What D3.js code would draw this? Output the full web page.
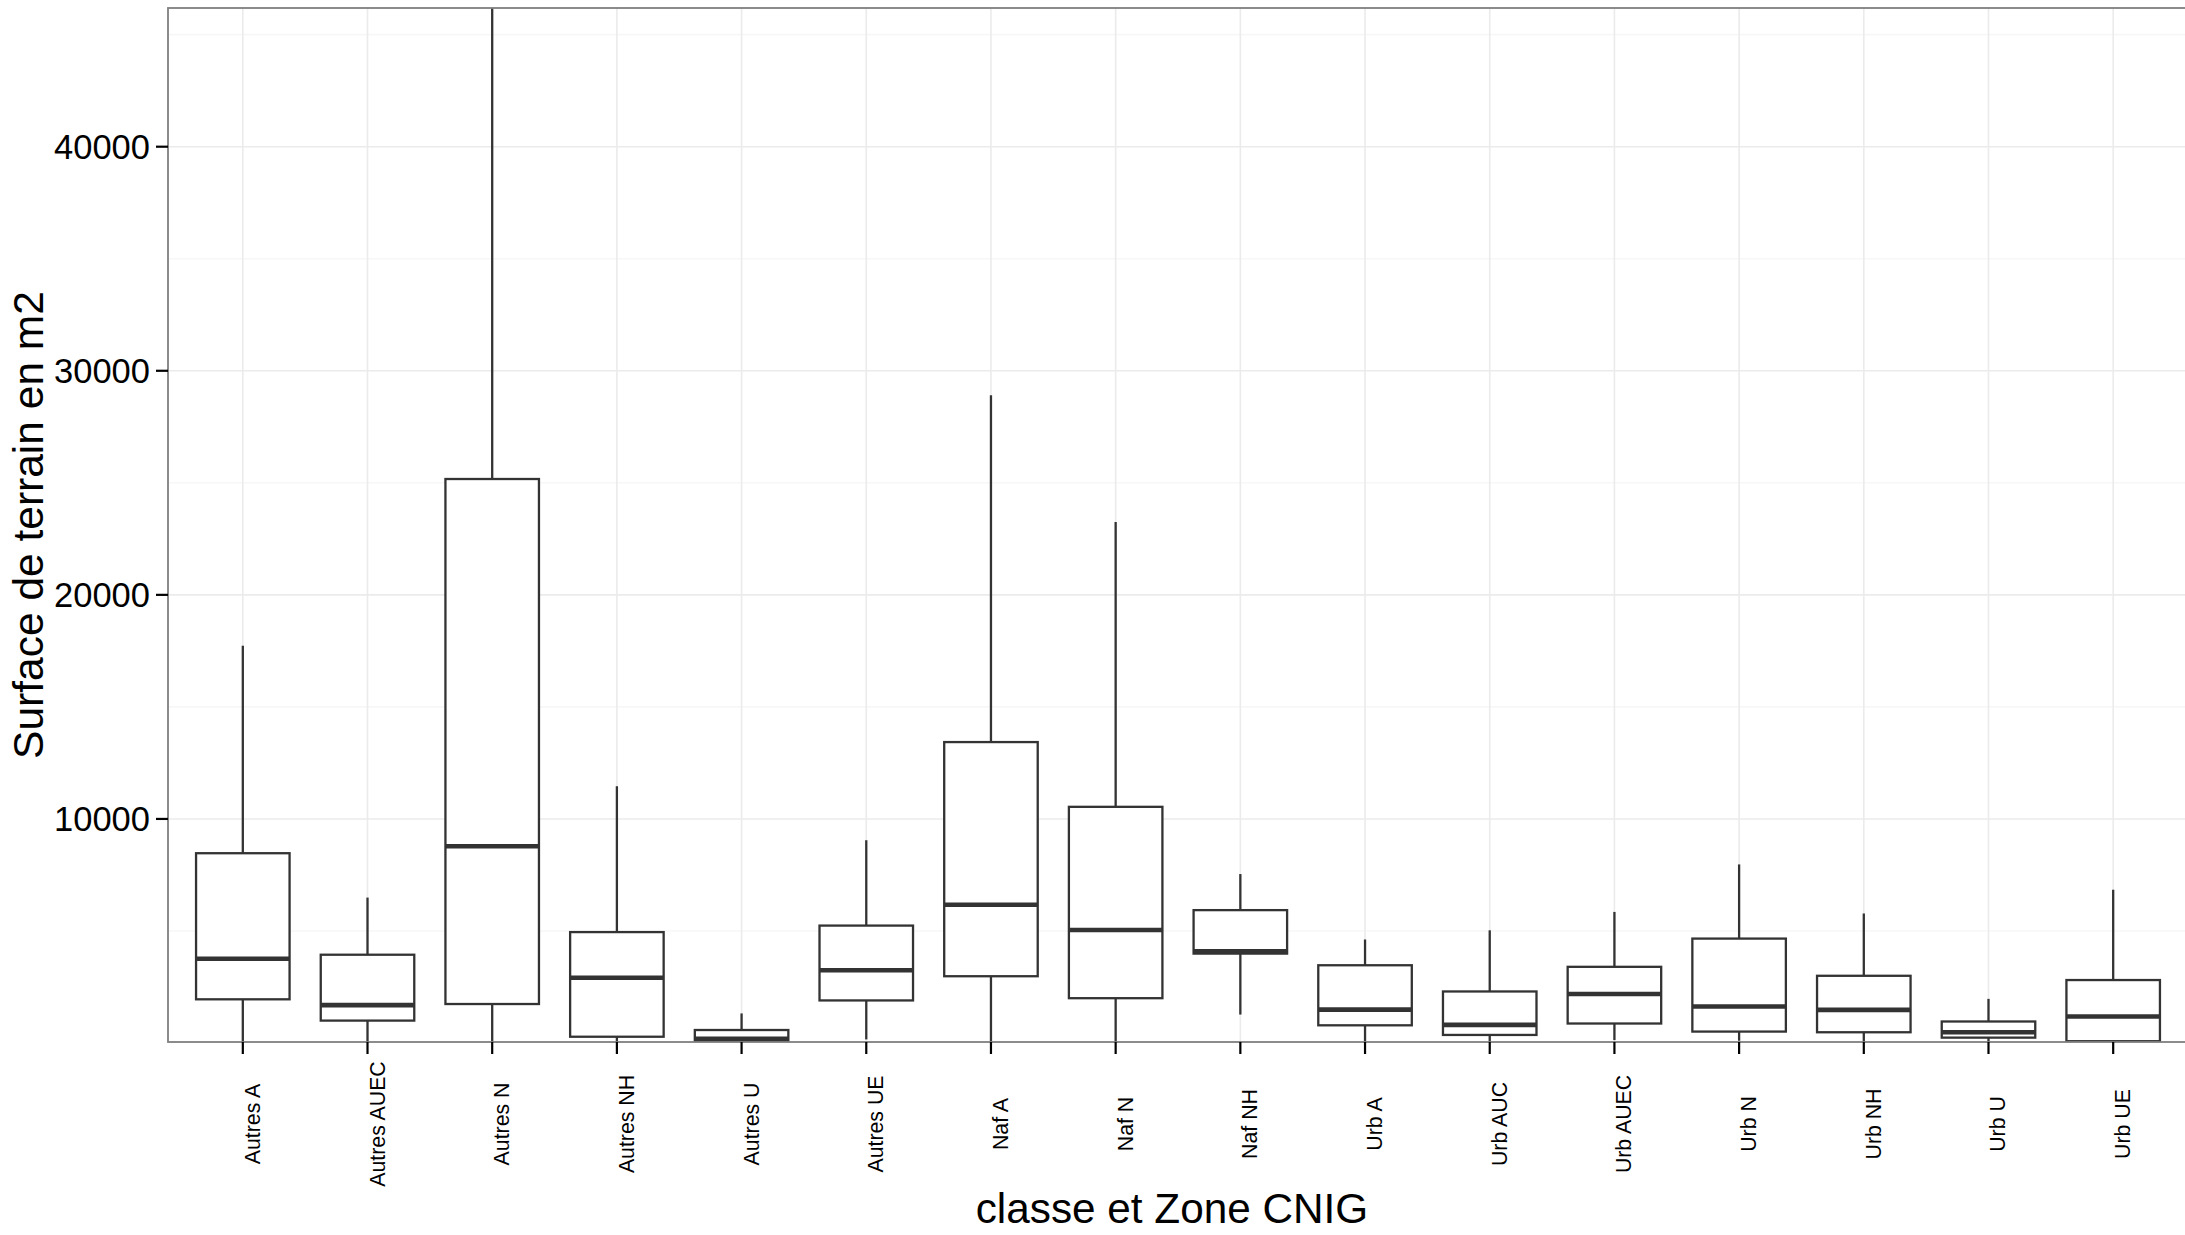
<!DOCTYPE html>
<html><head><meta charset="utf-8">
<script src="https://cdn.jsdelivr.net/npm/d3@7"></script>
<style>
html,body{margin:0;padding:0;background:#fff;}
svg{display:block;font-family:"Liberation Sans",Arial,Helvetica,sans-serif;}
</style></head>
<body>
<script>
const categories = ["Autres A","Autres AUEC","Autres N","Autres NH","Autres U","Autres UE","Naf A","Naf N","Naf NH","Urb A","Urb AUC","Urb AUEC","Urb N","Urb NH","Urb U","Urb UE"];
const whiskerLow  = [0, 0, 0, 0, 0, 160, 0, 0, 1270, 0, 0, 130, 100, 0, 0, 0];
const q1          = [1950, 1000, 1740, 280, 60, 1900, 2980, 2000, 3990, 790, 360, 870, 510, 480, 240, 80];
const medians     = [3760, 1690, 8780, 2910, 190, 3250, 6170, 5040, 4090, 1490, 810, 2190, 1630, 1480, 480, 1180];
const q3          = [8470, 3940, 25170, 4950, 580, 5240, 13430, 10540, 5930, 3470, 2300, 3400, 4660, 3000, 960, 2810];
const whiskerHigh = [17730, 6490, 60000, 11460, 1320, 9050, 28910, 23250, 7540, 4620, 5030, 5850, 7970, 5780, 1970, 6840];
const yMajorTicks = [10000, 20000, 30000, 40000];
const yMinorTicks = [5000, 15000, 25000, 35000, 45000];
const yTitle = "Surface de terrain en m2";
const xTitle = "classe et Zone CNIG";

const W = 2185, H = 1235;
const P = {left: 168, right: 2188, top: 8, bottom: 1042};

const rows = categories.map((c, i) => ({cat: c, lo: whiskerLow[i], q1: q1[i], med: medians[i], q3: q3[i], hi: whiskerHigh[i]}));

const svg = d3.select("body").append("svg").attr("width", W).attr("height", H);

const x = d3.scalePoint().domain(categories).range([P.left, P.right]).padding(0.6);
const step = x.step();
const y = d3.scaleLinear().domain([45, 46190]).range([P.bottom, P.top]);

svg.append("defs").append("clipPath").attr("id", "panel")
  .append("rect").attr("x", P.left).attr("y", P.top).attr("width", P.right - P.left).attr("height", P.bottom - P.top);

// grid
const grid = svg.append("g");
grid.selectAll("line.minor").data(yMinorTicks).join("line")
  .attr("x1", P.left).attr("x2", P.right).attr("y1", d => y(d)).attr("y2", d => y(d))
  .attr("stroke", "#f7f7f7").attr("stroke-width", 1.6);
grid.selectAll("line.majy").data(yMajorTicks).join("line")
  .attr("x1", P.left).attr("x2", P.right).attr("y1", d => y(d)).attr("y2", d => y(d))
  .attr("stroke", "#ebebeb").attr("stroke-width", 1.6);
grid.selectAll("line.majx").data(categories).join("line")
  .attr("x1", d => x(d)).attr("x2", d => x(d)).attr("y1", P.top).attr("y2", P.bottom)
  .attr("stroke", "#ebebeb").attr("stroke-width", 1.6);

// boxes
const bw = step * 0.75;
const gb = svg.append("g").attr("clip-path", "url(#panel)");
const box = gb.selectAll("g.box").data(rows).join("g");
const col = "#333333";
box.append("line").attr("x1", d => x(d.cat)).attr("x2", d => x(d.cat))
  .attr("y1", d => y(d.q3)).attr("y2", d => y(d.hi)).attr("stroke", col).attr("stroke-width", 2.3);
box.append("line").attr("x1", d => x(d.cat)).attr("x2", d => x(d.cat))
  .attr("y1", d => y(d.q1)).attr("y2", d => y(d.lo)).attr("stroke", col).attr("stroke-width", 2.3);
box.append("rect").attr("x", d => x(d.cat) - bw / 2).attr("width", bw)
  .attr("y", d => y(d.q3)).attr("height", d => y(d.q1) - y(d.q3))
  .attr("fill", "#fff").attr("stroke", col).attr("stroke-width", 2.3);
box.append("line").attr("x1", d => x(d.cat) - bw / 2).attr("x2", d => x(d.cat) + bw / 2)
  .attr("y1", d => y(d.med)).attr("y2", d => y(d.med)).attr("stroke", col).attr("stroke-width", 4.6);

// panel border
svg.append("rect").attr("x", P.left).attr("y", P.top).attr("width", P.right - P.left).attr("height", P.bottom - P.top)
  .attr("fill", "none").attr("stroke", "#7f7f7f").attr("stroke-width", 1.8);

// y axis
const yAxis = svg.append("g");
yAxis.selectAll("line").data(yMajorTicks).join("line")
  .attr("x1", P.left - 12).attr("x2", P.left).attr("y1", d => y(d)).attr("y2", d => y(d))
  .attr("stroke", "#000").attr("stroke-width", 2.2);
yAxis.selectAll("text").data(yMajorTicks).join("text")
  .attr("x", P.left - 18).attr("y", d => y(d)).attr("dy", "0.36em")
  .attr("text-anchor", "end").attr("font-size", 34.5).attr("fill", "#000")
  .text(d => d3.format("d")(d));

// x axis
const xAxis = svg.append("g");
xAxis.selectAll("line").data(categories).join("line")
  .attr("x1", d => x(d)).attr("x2", d => x(d)).attr("y1", P.bottom).attr("y2", P.bottom + 12)
  .attr("stroke", "#000").attr("stroke-width", 2.2);
xAxis.selectAll("text").data(categories).join("text")
  .attr("transform", d => `translate(${x(d) + 17},1124) rotate(-90)`)
  .attr("text-anchor", "middle").attr("font-size", 21.3).attr("fill", "#000")
  .text(d => d);

// titles
svg.append("text").attr("transform", `translate(43,${(P.top + P.bottom) / 2}) rotate(-90)`)
  .attr("text-anchor", "middle").attr("font-size", 42.5).attr("fill", "#000").text(yTitle);
svg.append("text").attr("x", 1172).attr("y", 1223)
  .attr("text-anchor", "middle").attr("font-size", 42.3).attr("fill", "#000").text(xTitle);
</script>
</body></html>
